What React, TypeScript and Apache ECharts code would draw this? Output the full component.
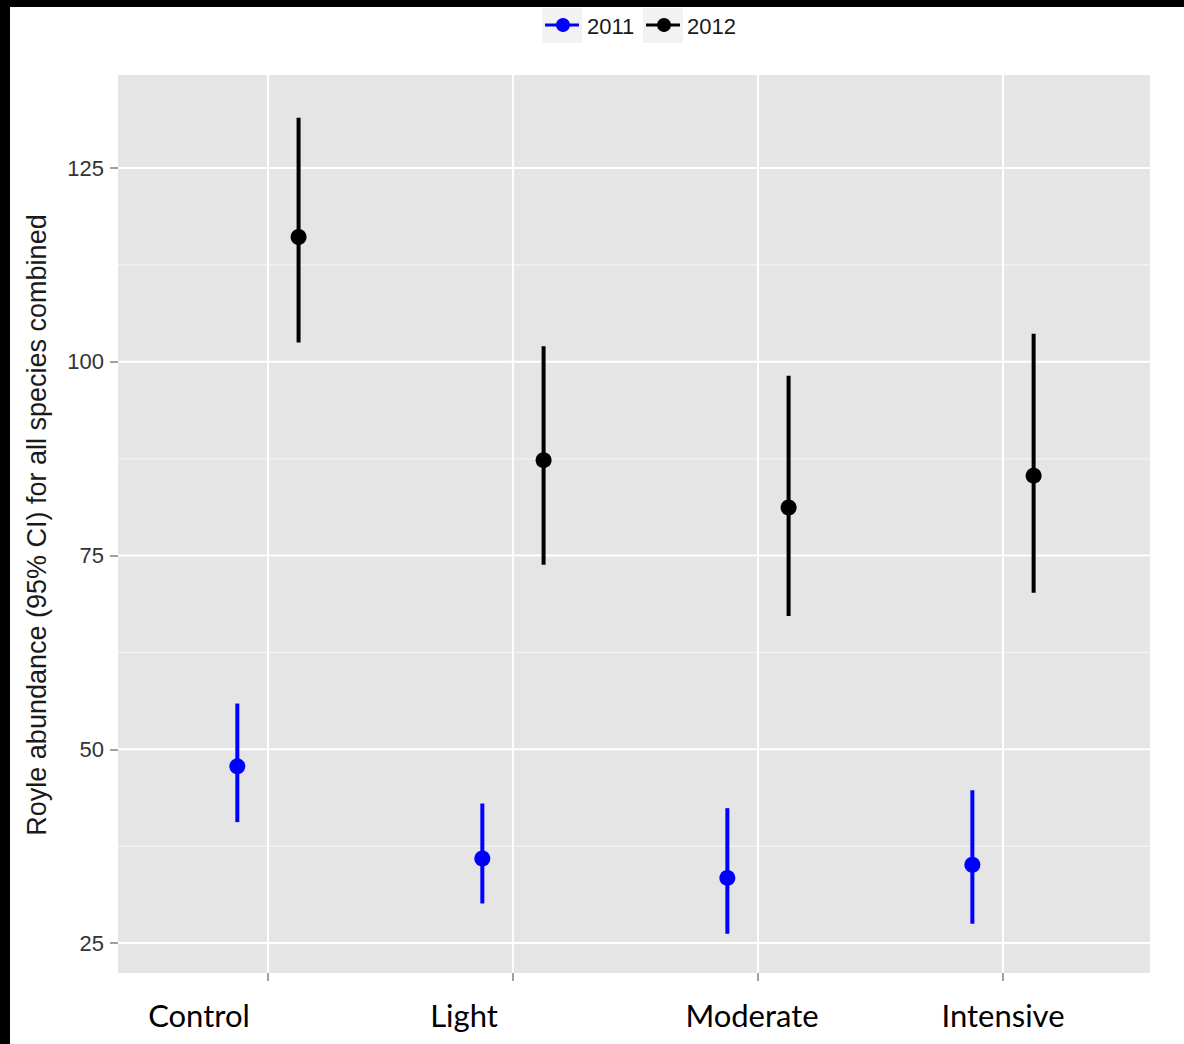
import React, { useEffect, useRef } from 'react';
import * as echarts from 'echarts';

// ---------- data ----------
const categories = ['Control', 'Light', 'Moderate', 'Intensive'];
const seriesNames = ['2011', '2012'];
const est2011 = [47.8, 35.9, 33.4, 35.1];
const lower2011 = [40.6, 30.1, 26.2, 27.5];
const upper2011 = [55.9, 43.0, 42.4, 44.7];
const est2012 = [116.1, 87.3, 81.2, 85.3];
const lower2012 = [102.5, 73.8, 67.2, 70.2];
const upper2012 = [131.5, 102.0, 98.2, 103.6];
const yTickValues = [25, 50, 75, 100, 125];
const yMinorValues = [37.5, 62.5, 87.5, 112.5];
const xTickValues = [1, 2, 3, 4];

// ---------- layout / style ----------
const W = 1184;
const H = 1044;
const X_MIN = 0.388;
const X_MAX = 4.6;
const Y_MIN = 21.13;
const Y_MAX = 137.0;
const DODGE = 0.125;
const COLORS = ['#0000FF', '#000000'];
const X_LABEL_CENTERS = [199, 464, 752, 1003];

export default function App() {
  const ref = useRef<HTMLDivElement>(null);

  useEffect(() => {
    if (!ref.current) return;
    const chart = echarts.init(ref.current, undefined, { renderer: 'svg' });

    const sets = [
      { name: seriesNames[0], est: est2011, lo: lower2011, hi: upper2011, off: -DODGE, color: COLORS[0] },
      { name: seriesNames[1], est: est2012, lo: lower2012, hi: upper2012, off: DODGE, color: COLORS[1] },
    ];

    const hLine = (color: string, width: number) => (params: any, api: any) => {
      const v = api.value(1);
      const a = api.coord([X_MIN, v]);
      const b = api.coord([X_MAX, v]);
      return {
        type: 'line',
        shape: { x1: a[0], y1: a[1], x2: b[0], y2: b[1] },
        style: { stroke: color, lineWidth: width },
        silent: true,
      };
    };

    const vLine = (params: any, api: any) => {
      const x = api.value(0);
      const a = api.coord([x, Y_MIN]);
      const b = api.coord([x, Y_MAX]);
      return {
        type: 'line',
        shape: { x1: a[0], y1: a[1], x2: b[0], y2: b[1] },
        style: { stroke: '#FFFFFF', lineWidth: 2 },
        silent: true,
      };
    };

    const series: any[] = [
      {
        type: 'custom',
        name: 'minor',
        renderItem: hLine('#F2F2F2', 1.5),
        data: yMinorValues.map((v) => [X_MIN, v]),
        encode: { x: 0, y: 1 },
        z: 1,
        silent: true,
      },
      {
        type: 'custom',
        name: 'major',
        renderItem: hLine('#FFFFFF', 2),
        data: yTickValues.map((v) => [X_MIN, v]),
        encode: { x: 0, y: 1 },
        z: 1,
        silent: true,
      },
      {
        type: 'custom',
        name: 'vmajor',
        renderItem: vLine,
        data: xTickValues.map((v) => [v, Y_MIN]),
        encode: { x: 0, y: 1 },
        z: 1,
        silent: true,
      },
    ];

    sets.forEach((s) => {
      series.push({
        type: 'custom',
        name: s.name + ' CI',
        data: categories.map((c, i) => [i + 1 + s.off, s.lo[i], s.hi[i]]),
        encode: { x: 0, y: [1, 2] },
        z: 3,
        renderItem: (params: any, api: any) => {
          const x = api.value(0);
          const a = api.coord([x, api.value(1)]);
          const b = api.coord([x, api.value(2)]);
          return {
            type: 'line',
            shape: { x1: a[0], y1: a[1], x2: b[0], y2: b[1] },
            style: { stroke: s.color, lineWidth: 4 },
          };
        },
      });
      series.push({
        type: 'scatter',
        name: s.name,
        data: categories.map((c, i) => [i + 1 + s.off, s.est[i]]),
        symbol: 'circle',
        symbolSize: 16,
        itemStyle: { color: s.color, opacity: 1 },
        z: 4,
      });
    });

    const legendFont = '22px "Liberation Sans", Arial, sans-serif';
    const graphic: any[] = [
      { type: 'rect', shape: { x: 0, y: 0, width: W, height: 7 }, style: { fill: '#000' }, z: 100 },
      { type: 'rect', shape: { x: 0, y: 0, width: 10, height: H }, style: { fill: '#000' }, z: 100 },
      // legend
      { type: 'rect', shape: { x: 542, y: 8, width: 40, height: 35 }, style: { fill: '#F2F2F2' } },
      { type: 'line', shape: { x1: 545, y1: 25, x2: 579, y2: 25 }, style: { stroke: COLORS[0], lineWidth: 3 } },
      { type: 'circle', shape: { cx: 563, cy: 25, r: 7 }, style: { fill: COLORS[0] } },
      {
        type: 'text', x: 587, y: 26,
        style: { text: seriesNames[0], font: legendFont, fill: '#1a1a1a', align: 'left', verticalAlign: 'middle' },
      },
      { type: 'rect', shape: { x: 643, y: 8, width: 40, height: 35 }, style: { fill: '#F2F2F2' } },
      { type: 'line', shape: { x1: 646, y1: 25, x2: 680, y2: 25 }, style: { stroke: COLORS[1], lineWidth: 3 } },
      { type: 'circle', shape: { cx: 664, cy: 25, r: 7 }, style: { fill: COLORS[1] } },
      {
        type: 'text', x: 687, y: 26,
        style: { text: seriesNames[1], font: legendFont, fill: '#1a1a1a', align: 'left', verticalAlign: 'middle' },
      },
      // y axis title
      {
        type: 'text', x: 37, y: 525, rotation: Math.PI / 2,
        style: {
          text: 'Royle abundance (95% CI) for all species combined',
          font: '27px "Liberation Sans", Arial, sans-serif', fill: '#1a1a1a', align: 'center', verticalAlign: 'middle',
        },
      },
      // x category labels
      ...categories.map((c, i) => ({
        type: 'text', x: X_LABEL_CENTERS[i], y: 1015,
        style: { text: c, font: '31px Lato, "Open Sans", sans-serif', fill: '#000', align: 'center', verticalAlign: 'middle' },
      })),
    ];

    chart.setOption({
      animation: false,
      backgroundColor: '#FFFFFF',
      grid: {
        left: 118, top: 75, width: 1032, height: 898,
        show: true, backgroundColor: '#E5E5E5', borderWidth: 0, containLabel: false,
      },
      xAxis: {
        type: 'value', min: X_MIN, max: X_MAX,
        axisLine: { show: false },
        axisTick: { show: true, customValues: xTickValues, length: 8, lineStyle: { color: '#7F7F7F', width: 1.5 } },
        axisLabel: { show: false },
        splitLine: { show: false },
      },
      yAxis: {
        type: 'value', min: Y_MIN, max: Y_MAX,
        axisLine: { show: false },
        axisTick: { show: true, customValues: yTickValues, length: 8, lineStyle: { color: '#7F7F7F', width: 1.5 } },
        axisLabel: {
          customValues: yTickValues, fontSize: 22, fontFamily: '"Liberation Sans", Arial, sans-serif',
          color: '#333333', margin: 14,
        },
        splitLine: { show: false },
        minorSplitLine: { show: false },
      },
      series,
      graphic,
    });

    return () => chart.dispose();
  }, []);

  return (
    <div
      ref={ref}
      style={{ position: 'absolute', left: 0, top: 0, width: W, height: H, background: '#fff' }}
    />
  );
}
